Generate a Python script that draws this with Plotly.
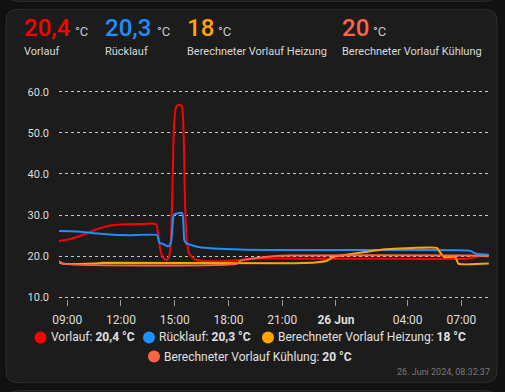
import plotly.graph_objects as go

# ---------------- data ----------------
D1 = "2024-06-25 "
D2 = "2024-06-26 "

vorlauf_t = [D1 + t for t in ["08:32", "09:00", "09:30", "10:00", "10:30", "11:00", "11:30", "12:00", "13:00",
                              "13:58", "14:05", "14:12", "14:22", "14:32", "14:40", "14:46", "14:52", "14:58",
                              "15:05", "15:14", "15:24", "15:30", "15:34", "15:40", "15:50", "16:10", "16:40",
                              "17:40", "18:30", "19:10", "22:00"]] + \
            [D2 + t for t in ["02:00", "07:20", "07:50", "08:10", "08:32"]]
vorlauf_v = [23.7, 24.0, 24.6, 25.4, 26.3, 27.0, 27.5, 27.7, 27.8,
             27.8, 25.0, 21.5, 19.6, 19.1, 19.6, 22.0, 35.0, 52.0,
             56.3, 56.8, 56.5, 50.0, 35.0, 24.0, 20.5, 19.1, 18.8,
             18.8, 19.0, 19.4, 19.4,
             19.4, 19.4, 19.8, 20.2, 20.4]

ruecklauf_t = [D1 + t for t in ["08:32", "09:30", "10:30", "11:30", "12:30", "14:02", "14:08", "14:20", "14:40",
                                "14:48", "14:56", "15:00", "15:25", "15:32", "15:38", "16:00", "16:30", "17:30",
                                "19:00", "21:00"]] + \
              [D2 + t for t in ["04:00", "07:30", "07:50", "08:32"]]
ruecklauf_v = [26.1, 26.0, 25.6, 25.2, 25.1, 25.1, 23.3, 23.0, 22.4,
               23.5, 29.8, 30.2, 30.5, 24.0, 23.2, 22.6, 22.1, 21.8,
               21.6, 21.5,
               21.5, 21.3, 20.6, 20.3]

heizung_t = [D1 + t for t in ["08:32", "08:45", "10:30", "11:00", "21:00", "22:50", "23:30", "23:50"]] + \
            [D2 + t for t in ["00:30", "01:36", "02:43", "03:33", "04:16", "05:38", "05:50", "06:03",
                              "06:40", "06:50", "08:32"]]
heizung_v = [18.6, 18.2, 18.2, 18.4, 18.3, 18.5, 18.9, 19.8,
             20.3, 21.0, 21.7, 21.9, 22.0, 22.0, 20.8, 19.8,
             19.8, 18.2, 18.2]

kuehlung_t = [D1 + t for t in ["08:32", "08:45", "18:30", "18:40", "19:30", "20:30", "21:30"]] + \
             [D2 + t for t in ["07:30", "08:32"]]
kuehlung_v = [18.8, 18.2, 18.2, 18.9, 19.5, 20.0, 20.2, 20.2, 20.0]

series_names = ["Vorlauf", "Rücklauf", "Berechneter Vorlauf Heizung", "Berechneter Vorlauf Kühlung"]
current_values = ["20,4", "20,3", "18", "20"]
colors = ["#ff0000", "#1e8fff", "#ffa500", "#ff6347"]

x_tickvals = [D1 + "09:00", D1 + "12:00", D1 + "15:00", D1 + "18:00", D1 + "21:00",
              D2 + "00:00", D2 + "04:00", D2 + "07:00"]
x_ticktext = ["09:00", "12:00", "15:00", "18:00", "21:00", "<b>26 Jun</b>", "04:00", "07:00"]
y_tickvals = [10, 20, 30, 40, 50, 60]
timestamp = "26. Juni 2024, 08:32:37"

# ---------------- layout helpers ----------------
W, H = 505, 392
YMIN, YMAX = 9.6, 60.4
PL, PR = 59, 489
PT = 92 - (YMAX - 60) * 4.1
PB = 297 + (10 - YMIN) * 4.1


def px(x):
    return (x - PL) / (PR - PL)


def py(y):
    return (PB - y) / (PB - PT)


def rounded_rect(x0, y0, x1, y1, r):
    pts = []
    pts.append(("M", [(x0 + r, y0)]))
    pts.append(("L", [(x1 - r, y0)]))
    pts.append(("Q", [(x1, y0), (x1, y0 + r)]))
    pts.append(("L", [(x1, y1 - r)]))
    pts.append(("Q", [(x1, y1), (x1 - r, y1)]))
    pts.append(("L", [(x0 + r, y1)]))
    pts.append(("Q", [(x0, y1), (x0, y1 - r)]))
    pts.append(("L", [(x0, y0 + r)]))
    pts.append(("Q", [(x0, y0), (x0 + r, y0)]))
    s = ""
    for cmd, ps in pts:
        s += cmd + " " + " ".join(f"{px(a):.5f},{py(b):.5f}" for a, b in ps) + " "
    return s + "Z"


fig = go.Figure()

series = [(vorlauf_t, vorlauf_v), (ruecklauf_t, ruecklauf_v), (heizung_t, heizung_v), (kuehlung_t, kuehlung_v)]
for (t, v), name, c in zip(series, series_names, colors):
    fig.add_trace(go.Scatter(x=t, y=v, mode="lines", name=name,
                             line=dict(color=c, width=2, shape="spline", smoothing=0.5),
                             hoverinfo="skip", showlegend=False))

shapes = []
card_bg = "#1c1c1c"
border = "#2e2e2e"
# previous / next card edges
shapes.append(dict(type="path", path=rounded_rect(6, -30, 497, 2, 12), xref="paper", yref="paper",
                   fillcolor=card_bg, line=dict(color=border, width=1), layer="below"))
shapes.append(dict(type="path", path=rounded_rect(6, 390, 497, 430, 12), xref="paper", yref="paper",
                   fillcolor=card_bg, line=dict(color=border, width=1), layer="below"))
shapes.append(dict(type="path", path=rounded_rect(6, 10, 497, 382, 12), xref="paper", yref="paper",
                   fillcolor=card_bg, line=dict(color=border, width=1), layer="below"))

annotations = []
font_family = "Roboto"
head_x = [22, 103, 185, 340]
unit_x = [73, 155, 216, 371]
for i in range(4):
    annotations.append(dict(x=px(head_x[i]), y=py(28.6), xref="paper", yref="paper", xanchor="left",
                            yanchor="middle", showarrow=False, text=current_values[i],
                            font=dict(family=font_family, size=24, color=colors[i], weight=500)))
    annotations.append(dict(x=px(unit_x[i]), y=py(32.3), xref="paper", yref="paper", xanchor="left",
                            yanchor="middle", showarrow=False, text="°C",
                            font=dict(family=font_family, size=13, color="#c8c8c8")))
    annotations.append(dict(x=px(head_x[i]), y=py(52.3), xref="paper", yref="paper", xanchor="left",
                            yanchor="middle", showarrow=False, text=series_names[i],
                            font=dict(family=font_family, size=11, color="#d8d8d8")))

# legend (custom, centred rows)
leg_dot = [(40.5, 337), (149, 337), (268, 337), (154, 356)]
leg_txt_x = [49, 157, 276, 162]
for i in range(4):
    cx, cy = leg_dot[i]
    shapes.append(dict(type="circle", xref="paper", yref="paper",
                       x0=px(cx - 6), x1=px(cx + 6), y0=py(cy + 6), y1=py(cy - 6),
                       fillcolor=colors[i], line=dict(width=0)))
    annotations.append(dict(x=px(leg_txt_x[i]), y=py(cy), xref="paper", yref="paper", xanchor="left",
                            yanchor="middle", showarrow=False,
                            text=f"{series_names[i]}: <b>{current_values[i]} °C</b>",
                            font=dict(family=font_family, size=12, color="#e0e0e0")))

annotations.append(dict(x=px(492), y=py(371.5), xref="paper", yref="paper", xanchor="right",
                        yanchor="middle", showarrow=False, text=timestamp,
                        font=dict(family=font_family, size=9, color="#7a7a7a")))

fig.update_layout(
    width=W, height=H,
    margin=dict(l=PL, r=W - PR, t=PT, b=H - PB, pad=0),
    paper_bgcolor="#111111",
    plot_bgcolor=card_bg,
    shapes=shapes,
    annotations=annotations,
    showlegend=False,
    font=dict(family=font_family, color="#dddddd"),
    xaxis=dict(type="date", range=[D1 + "08:32:37", D2 + "08:32:37"],
               tickvals=x_tickvals, ticktext=x_ticktext, showgrid=False, zeroline=False,
               showline=False, ticks="outside", ticklen=6, tickcolor="#9a9a9a", tickwidth=1,
               tickfont=dict(family=font_family, size=12, color="#dddddd"), ticklabelstandoff=4),
    yaxis=dict(range=[YMIN, YMAX], tickvals=y_tickvals, tickformat=".1f", showgrid=True,
               gridcolor="#c8c8c8", griddash="3px,3px", gridwidth=1, zeroline=False, showline=False,
               ticks="", tickfont=dict(family=font_family, size=11, color="#dddddd"),
               ticklabelstandoff=9),
)

fig.write_html("out.html", config={"displayModeBar": False},
               post_script="document.body.style.margin='0px';document.body.style.overflow='hidden';")
